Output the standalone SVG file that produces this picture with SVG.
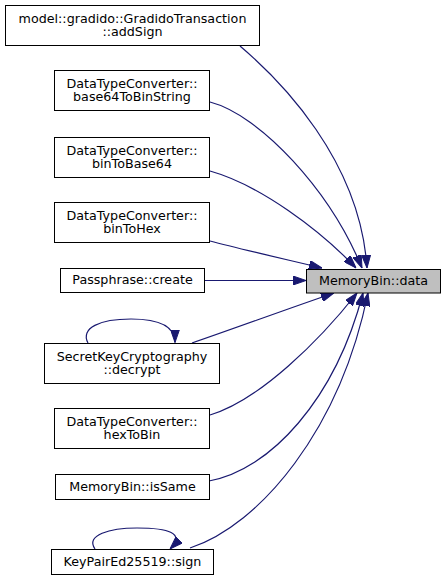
<svg xmlns="http://www.w3.org/2000/svg" width="447" height="581" viewBox="0 0 447 581">
<style>
.node rect{fill:#ffffff;stroke:#000000;stroke-width:1}
.node.target rect{fill:#bfbfbf}
.node text{font-family:"DejaVu Sans",sans-serif;font-size:12.7px;text-anchor:middle;fill:#000000}
.edges path{fill:none;stroke:#191970;stroke-width:1.2;marker-end:url(#arrow)}
</style>
<defs>
<marker id="arrow" markerUnits="userSpaceOnUse" viewBox="0 0 13 9" markerWidth="13" markerHeight="9" refX="13" refY="4.5" orient="auto">
<path d="M0,0 L13,4.5 L0,9 z" fill="#191970" stroke="#191970" stroke-width="1"/>
</marker>
</defs>
<rect width="447" height="581" fill="#ffffff"/>
<g class="edges">
<path d="M240,46 C280,80 360,160 367,268"/>
<path d="M210,102 C260,115 330,190 362,268"/>
<path d="M210,171 C260,185 320,230 356,268"/>
<path d="M210,241 C240,249 280,258 322,268"/>
<path d="M204,280.5 L306,280.5"/>
<path d="M192,343 C230,330 290,308 334,293"/>
<path d="M210,415 C260,400 320,340 357,293"/>
<path d="M209,481 C270,470 335,400 363,293"/>
<path d="M190,548 C260,525 340,430 368,293"/>
<path d="M88,343 C80,328 100,319 131,319 C160,319 175,326 175,342.5"/>
<path d="M95,549 C85,535 110,528 137,528 C168,528 186,533 170,549"/>
</g>
<g id="node-addSign" class="node"><rect x="5.5" y="5.5" width="254" height="40"/><text x="132.5" y="22.5">model::gradido::GradidoTransaction</text><text x="132.5" y="35.5">::addSign</text></g>
<g id="node-base64ToBinString" class="node"><rect x="54.5" y="70.5" width="155" height="40"/><text x="132" y="87.5">DataTypeConverter::</text><text x="132" y="100.5">base64ToBinString</text></g>
<g id="node-binToBase64" class="node"><rect x="54.5" y="137.5" width="155" height="40"/><text x="132" y="154.5">DataTypeConverter::</text><text x="132" y="167.5">binToBase64</text></g>
<g id="node-binToHex" class="node"><rect x="54.5" y="202.5" width="155" height="40"/><text x="132" y="219.5">DataTypeConverter::</text><text x="132" y="232.5">binToHex</text></g>
<g id="node-create" class="node"><rect x="60.5" y="268.5" width="144" height="24"/><text x="132.5" y="284.3">Passphrase::create</text></g>
<g id="node-decrypt" class="node"><rect x="44.5" y="343.5" width="175" height="40"/><text x="132" y="360.5">SecretKeyCryptography</text><text x="132" y="373.5">::decrypt</text></g>
<g id="node-hexToBin" class="node"><rect x="54.5" y="408.5" width="155" height="40"/><text x="132" y="425.5">DataTypeConverter::</text><text x="132" y="438.5">hexToBin</text></g>
<g id="node-isSame" class="node"><rect x="55.5" y="474.5" width="154" height="25"/><text x="132.5" y="490.5">MemoryBin::isSame</text></g>
<g id="node-sign" class="node"><rect x="51.5" y="549.5" width="162" height="25"/><text x="132.5" y="565.5">KeyPairEd25519::sign</text></g>
<g id="node-data" class="node target"><rect x="306.5" y="269.5" width="134" height="23.5"/><text x="373.5" y="284.5">MemoryBin::data</text></g>
</svg>
